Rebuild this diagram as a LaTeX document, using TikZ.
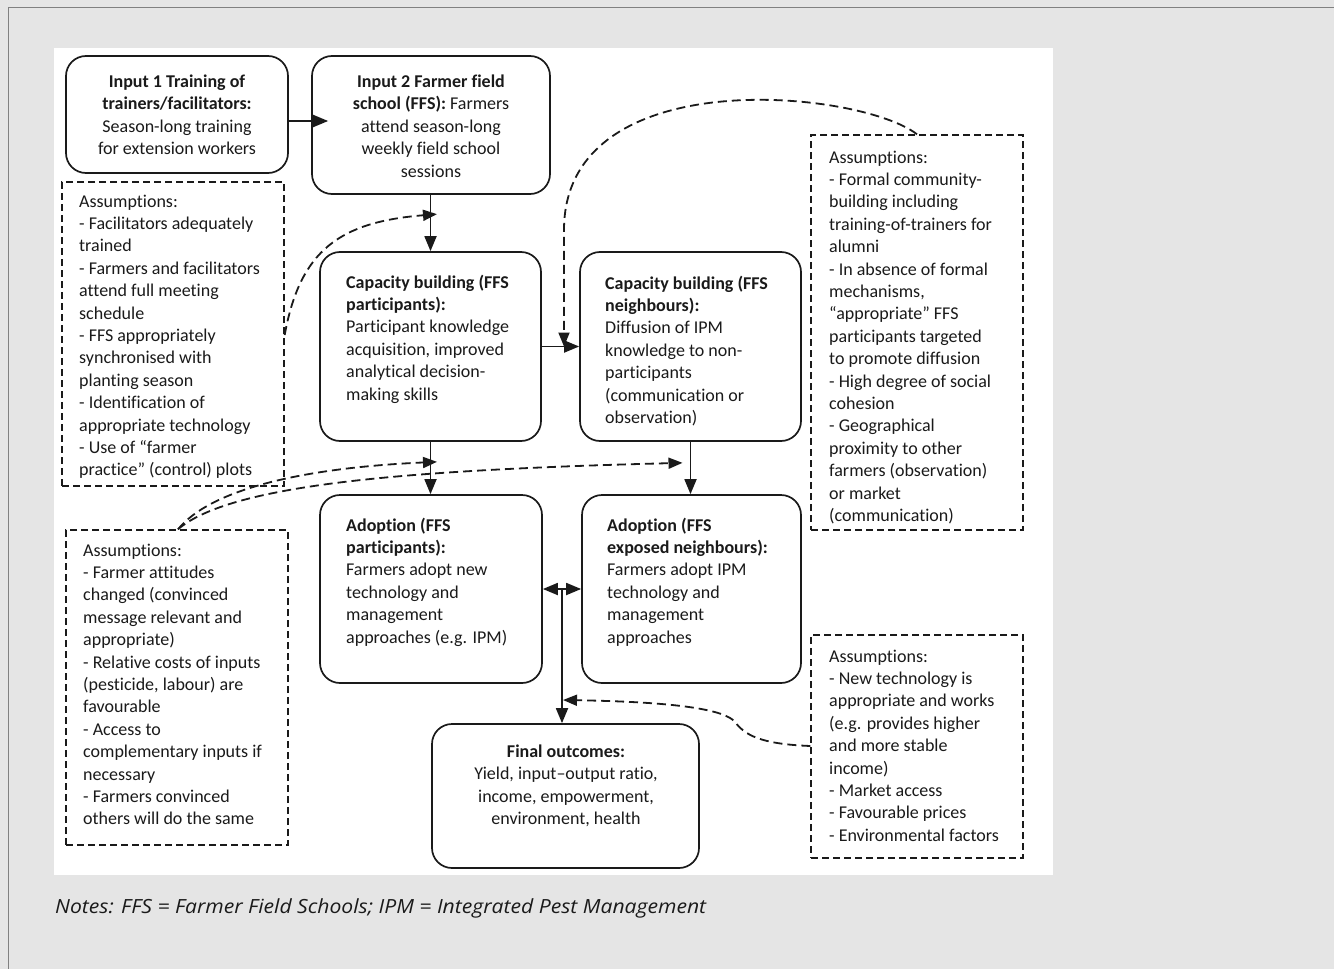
\documentclass[tikz,border=0pt]{standalone}
\usepackage{fontspec}
\usepackage{graphicx}
\usetikzlibrary{arrows.meta,calc}
\newfontfamily\dfont[Ligatures={NoCommon}]{Carlito}
\newfontfamily\nfont{Open Sans}
\definecolor{bggray}{HTML}{E5E5E5}
\definecolor{framegray}{HTML}{808080}
\definecolor{ink}{HTML}{1A1A1A}
\tikzset{
  rbox/.style={draw=ink, line width=1.7pt, rounded corners=20pt, inner sep=0pt, fill=white},
  dbox/.style={draw=ink, line width=1.4pt, dash pattern=on 7pt off 4pt, inner sep=0pt},
  txt/.style={align=left, inner sep=0pt, text=ink, font=\dfont\fontsize{18}{22.4}\selectfont,
              anchor=north west, yshift=12.4pt, execute at begin node=\strut},
  ctxt/.style={align=center, inner sep=0pt, text=ink, font=\dfont\fontsize{18}{22.4}\selectfont,
              anchor=north, yshift=12.4pt, execute at begin node=\strut},
  arr/.style={draw=ink, line width=1.8pt, -{Triangle[length=15pt,width=12pt]}},
  darr/.style={draw=ink, line width=1.8pt, dash pattern=on 9pt off 5pt, -{Triangle[length=14pt,width=11pt]}},
}
\begin{document}
\begin{tikzpicture}[x=1pt,y=-1pt]
\useasboundingbox (0,0) rectangle (1334,969);
\fill[bggray] (0,0) rectangle (1334,969);
\draw[framegray, line width=1.5pt] (8.5,969) -- (8.5,7.5) -- (1334,7.5);
\fill[white] (54,48) rectangle (1053,875);

% solid boxes
\node[rbox, minimum width=222pt, minimum height=117pt] (A) at (177,114.5) {};
\node[rbox, minimum width=238pt, minimum height=138pt] (B) at (431,125) {};
\node[rbox, minimum width=221pt, minimum height=189pt] (C) at (430.5,346.5) {};
\node[rbox, minimum width=221pt, minimum height=189pt] (D) at (690.5,346.5) {};
\node[rbox, minimum width=222pt, minimum height=188pt] (E) at (431,589) {};
\node[rbox, minimum width=219pt, minimum height=188pt] (F) at (691.5,589) {};
\node[rbox, minimum width=267pt, minimum height=144pt] (G) at (565.5,796) {};
% dashed boxes
\node[dbox, minimum width=222pt, minimum height=304pt] (LT) at (173,334) {};
\node[dbox, minimum width=222pt, minimum height=315pt] (LB) at (177,687.5) {};
\node[dbox, minimum width=212pt, minimum height=395pt] (RT) at (917,332.5) {};
\node[dbox, minimum width=212pt, minimum height=223pt] (RB) at (917,746.5) {};

% texts (position = first baseline)
\node[ctxt] (tA) at (177,87) {\textbf{Input 1 Training of}\\ \textbf{trainers/facilitators:}\\ Season-long training\\ for extension workers};
\node[ctxt] (tB) at (431,87) {\textbf{Input 2 Farmer field}\\ \textbf{school (FFS):} Farmers\\ attend season-long\\ weekly field school\\ sessions};
\node[txt] (tC) at (346,287) {\textbf{Capacity building (FFS}\\ \textbf{participants):}\\ Participant knowledge\\ acquisition, improved\\ analytical decision-\\ making skills};
\node[txt] (tD) at (605,288) {\textbf{Capacity building (FFS}\\ \textbf{neighbours):}\\ Diffusion of IPM\\ knowledge to non-\\ participants\\ (communication or\\ observation)};
\node[txt] (tE) at (346,530) {\textbf{Adoption (FFS}\\ \textbf{participants):}\\ Farmers adopt new\\ technology and\\ management\\ approaches (e.g. IPM)};
\node[txt] (tF) at (607,530) {\textbf{Adoption (FFS}\\ \textbf{exposed neighbours):}\\ Farmers adopt IPM\\ technology and\\ management\\ approaches};
\node[ctxt] (tG) at (566,757) {\textbf{Final outcomes:}\\ Yield, input–output ratio,\\ income, empowerment,\\ environment, health};
\node[txt] (tLT) at (79,207) {Assumptions:\\ - Facilitators adequately\\ trained\\ - Farmers and facilitators\\ attend full meeting\\ schedule\\ - FFS appropriately\\ synchronised with\\ planting season\\ - Identification of\\ appropriate technology\\ - Use of “farmer\\ practice” (control) plots};
\node[txt] (tLB) at (83,556) {Assumptions:\\ - Farmer attitudes\\ changed (convinced\\ message relevant and\\ appropriate)\\ - Relative costs of inputs\\ (pesticide, labour) are\\ favourable\\ - Access to\\ complementary inputs if\\ necessary\\ - Farmers convinced\\ others will do the same};
\node[txt] (tRT) at (829,163) {Assumptions:\\ - Formal community-\\ building including\\ training-of-trainers for\\ alumni\\ - In absence of formal\\ mechanisms,\\ “appropriate” FFS\\ participants targeted\\ to promote diffusion\\ - High degree of social\\ cohesion\\ - Geographical\\ proximity to other\\ farmers (observation)\\ or market\\ (communication)};
\node[txt] (tRB) at (829,662) {Assumptions:\\ - New technology is\\ appropriate and works\\ (e.g. provides higher\\ and more stable\\ income)\\ - Market access\\ - Favourable prices\\ - Environmental factors};

% solid connectors
\draw[arr] (A.east |- 0,121) -- ($(B.west |- 0,121)+(17,0)$);
\draw[arr] (C.north |- B.south) -- (C.north);
\draw[arr] (C.east) -- (D.west);
\draw[arr] (C.south) -- (C.south |- E.north);
\draw[arr] (D.south) -- (D.south |- F.north);
\draw[draw=ink, line width=1.8pt, {Triangle[length=15pt,width=12pt]}-{Triangle[length=15pt,width=12pt]}] (E.east) -- (F.west);
\coordinate (J) at ($(E.east)!0.5!(F.west)$);
\draw[arr] (J) -- (J |- G.north);

% dashed connectors
\draw[darr] (LT.east |- 0,335) .. controls (300,250) and (340,222) .. ($(C.north)+(6.5,-37)$);
\draw[darr] (RT.north -| 917,0) .. controls (860,90) and (564,60) .. (564,230) -- (D.west -| 564,0);
\draw[darr] (LB.north -| 178,0) .. controls (210,490) and (300,468) .. ($(C.south)+(6.5,20)$);
\draw[darr] (LB.north -| 178,0) .. controls (230,485) and (400,470) .. ($(D.south)+(-8,21)$);
\draw[darr] (RB.west |- 0,746) .. controls (760,744) and (745,735) .. (735,722) .. controls (725,710) and (680,702) .. ($(J |- 0,700)+(1,0)$);

% notes
\node[anchor=base west, inner sep=0pt, text=ink] (notes) at (55,913) {\resizebox{651pt}{\height}{\nfont\itshape\fontsize{19.5}{23}\selectfont Notes: FFS = Farmer Field Schools; IPM = Integrated Pest Management}};
\end{tikzpicture}
\end{document}
